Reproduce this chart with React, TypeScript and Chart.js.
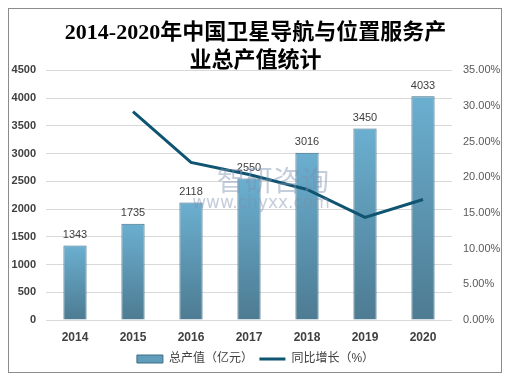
import React, { useEffect, useRef } from 'react';
import { Chart, registerables } from 'chart.js';

Chart.register(...registerables);

const years = ['2014', '2015', '2016', '2017', '2018', '2019', '2020'];
const outputValues = [1343, 1735, 2118, 2550, 3016, 3450, 4033];
const growthRates = [null, 29.2, 22.1, 20.4, 18.3, 14.4, 16.9];
const titleLines = ['2014-2020年中国卫星导航与位置服务产', '业总产值统计'];
const barLabel = '总产值（亿元）';
const lineLabel = '同比增长（%）';
const watermarkName = '智研咨询';
const watermarkUrl = 'www.chyxx.com';

const BAR_TOP = '#6bafd0';
const BAR_BOTTOM = '#4d7b92';
const BAR_BORDER = '#3f6e86';
const LINE_COLOR = '#0f5470';
const SANS = '"Liberation Sans", Arial, "Noto Sans CJK SC", sans-serif';

const valueLabels = {
  id: 'valueLabels',
  afterDatasetsDraw(chart: any) {
    const meta = chart.getDatasetMeta(0);
    const ctx = chart.ctx;
    ctx.save();
    ctx.font = '11px ' + SANS;
    ctx.fillStyle = '#404040';
    ctx.textAlign = 'center';
    ctx.textBaseline = 'bottom';
    meta.data.forEach((el: any, i: number) => {
      ctx.fillText(String(outputValues[i]), el.x, el.y - 5);
    });
    ctx.restore();
  },
};

const watermark = {
  id: 'watermark',
  afterDraw(chart: any) {
    const { ctx, chartArea } = chart;
    const cx = (chartArea.left + chartArea.right) / 2;
    const cy = (chartArea.top + chartArea.bottom) / 2;
    ctx.save();
    ctx.textAlign = 'center';
    ctx.textBaseline = 'middle';
    ctx.fillStyle = 'rgba(125,145,175,0.45)';
    ctx.font = '28px "Noto Sans CJK SC", sans-serif';
    ctx.fillText(watermarkName, cx + 24, cy - 15);
    ctx.font = '17px "DejaVu Sans", sans-serif';
    ctx.fillText(watermarkUrl, cx + 12, cy + 8);
    ctx.restore();
  },
};

export default function App() {
  const canvasRef = useRef<HTMLCanvasElement | null>(null);

  useEffect(() => {
    const canvas = canvasRef.current;
    if (!canvas) return;
    const chart = new Chart(canvas, {
      type: 'bar',
      data: {
        labels: years,
        datasets: [
          {
            type: 'bar',
            label: barLabel,
            data: outputValues,
            yAxisID: 'y',
            order: 1,
            borderColor: BAR_BORDER,
            borderWidth: 1,
            categoryPercentage: 0.8,
            barPercentage: 0.5,
            backgroundColor: (c: any) => {
              const chart = c.chart;
              const area = chart.chartArea;
              if (!area || c.parsed == null) return BAR_TOP;
              const top = chart.scales.y.getPixelForValue(c.parsed.y);
              const g = chart.ctx.createLinearGradient(0, top, 0, area.bottom);
              g.addColorStop(0, BAR_TOP);
              g.addColorStop(1, BAR_BOTTOM);
              return g;
            },
          },
          {
            type: 'line',
            label: lineLabel,
            data: growthRates,
            yAxisID: 'y1',
            order: 0,
            borderColor: LINE_COLOR,
            backgroundColor: LINE_COLOR,
            borderWidth: 3,
            pointRadius: 0,
            tension: 0,
            spanGaps: false,
          },
        ],
      },
      plugins: [valueLabels, watermark],
      options: {
        animation: false,
        responsive: true,
        maintainAspectRatio: false,
        layout: { padding: { left: 2, right: 1, top: 0, bottom: 0 } },
        plugins: {
          tooltip: { enabled: false },
          title: {
            display: true,
            text: titleLines,
            color: '#000',
            font: {
              family: '"Liberation Serif", "Noto Sans CJK SC", serif',
              size: 22,
              weight: 'bold',
              lineHeight: 1.28,
            },
            padding: { top: 10, bottom: -5 },
          },
          legend: {
            position: 'bottom',
            labels: {
              usePointStyle: true,
              pointStyleWidth: 26,
              boxHeight: 8,
              padding: 6.5,
              color: '#404040',
              font: { size: 12, family: SANS },
              generateLabels: () => [
                {
                  text: barLabel,
                  fillStyle: '#5f9dbb',
                  strokeStyle: BAR_BORDER,
                  lineWidth: 1,
                  pointStyle: 'rect',
                  datasetIndex: 0,
                  hidden: false,
                  fontColor: '#404040',
                },
                {
                  text: lineLabel,
                  fillStyle: LINE_COLOR,
                  strokeStyle: LINE_COLOR,
                  lineWidth: 3,
                  pointStyle: 'line',
                  datasetIndex: 1,
                  hidden: false,
                  fontColor: '#404040',
                },
              ],
            },
          },
        },
        scales: {
          x: {
            grid: { display: false },
            border: { display: false },
            ticks: { color: '#404040', font: { size: 12, weight: 'bold', family: SANS }, padding: 2 },
          },
          y: {
            position: 'left',
            min: 0,
            max: 4500,
            grid: { color: '#d9d9d9', drawTicks: false },
            border: { display: false },
            afterFit: (s: any) => {
              s.width = 35;
            },
            ticks: {
              stepSize: 500,
              color: '#404040',
              padding: 10,
              font: { size: 11, weight: 'bold', family: SANS },
              callback: (v: any) => String(v),
            },
          },
          y1: {
            position: 'right',
            min: 0,
            max: 35,
            grid: { display: false, drawTicks: false },
            border: { display: false },
            afterFit: (s: any) => {
              s.width = 48;
            },
            ticks: {
              stepSize: 5,
              color: '#595959',
              padding: 11,
              font: { size: 11, family: SANS },
              callback: (v: any) => Number(v).toFixed(2) + '%',
            },
          },
        },
      },
    });
    return () => chart.destroy();
  }, []);

  return (
    <div
      style={{
        width: 494,
        height: 365,
        border: '1px solid #8c8c8c',
        boxSizing: 'border-box',
        position: 'relative',
        background: '#fff',
      }}
    >
      <div style={{ position: 'absolute', left: 0, top: 0, width: 492, height: 366 }}>
        <canvas ref={canvasRef} />
      </div>
    </div>
  );
}
